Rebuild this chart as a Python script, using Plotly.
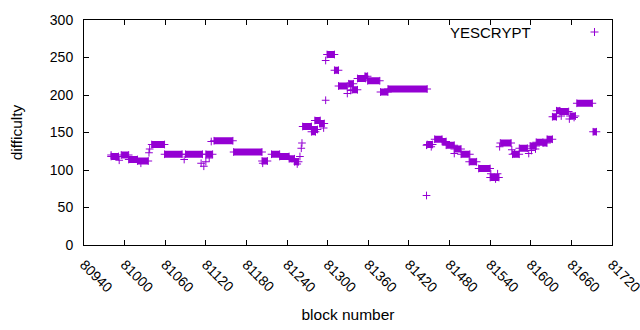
import plotly.graph_objects as go

# Runs of consecutive blocks sharing one difficulty value (first block, last block, difficulty)
run_first = [80980, 80995, 81006, 81019, 81040, 81059, 81090, 81120, 81132, 81161,
             81203, 81217, 81229, 81243, 81251, 81263, 81276, 81276, 81281, 81288,
             81299, 81310, 81316, 81331, 81336, 81344, 81355, 81359, 81378, 81389,
             81447, 81458, 81469, 81475, 81487, 81497, 81509, 81523, 81540, 81555,
             81573, 81583, 81599, 81608, 81618, 81624, 81632, 81638, 81643, 81658,
             81668, 81692]
run_last = [80991, 81006, 81019, 81035, 81059, 81085, 81115, 81130, 81160, 81203,
            81211, 81229, 81243, 81251, 81257, 81276, 81285, 81282, 81289, 81295,
            81310, 81316, 81329, 81338, 81344, 81356, 81359, 81377, 81389, 81447,
            81455, 81469, 81475, 81487, 81497, 81510, 81520, 81540, 81553, 81571,
            81583, 81595, 81608, 81618, 81624, 81632, 81638, 81643, 81656, 81666,
            81691, 81697]
run_difficulty = [118, 120, 114, 112, 134, 121, 121, 121, 139, 124,
                  112, 121, 118, 115, 111, 158, 154, 151, 166, 162,
                  254, 233, 212, 215, 207, 222, 225, 219, 204, 208,
                  134, 141, 138, 133, 128, 121, 111, 102, 90, 136,
                  121, 129, 132, 137, 136, 141, 171, 179, 178, 172,
                  189, 151]

# Isolated blocks
single_block = [80980, 80992, 81024, 81036, 81037, 81088, 81113, 81117, 81120, 81125,
                81128, 81204, 81255, 81259, 81261, 81262, 81294, 81297, 81297, 81329,
                81334, 81446, 81446, 81453, 81487, 81541, 81548, 81551, 81554, 81572,
                81576, 81597, 81601, 81607, 81645, 81657, 81664]
single_difficulty = [120, 113, 109, 123, 128, 114, 109, 105, 111, 116,
                     138, 109, 108, 118, 129, 136, 156, 193, 246, 202,
                     206, 66, 133, 131, 122, 95, 88, 95, 131, 127,
                     122, 122, 126, 128, 172, 168, 170]

x_ticks = [80940, 81000, 81060, 81120, 81180, 81240, 81300, 81360, 81420,
           81480, 81540, 81600, 81660, 81720]
y_ticks = [0, 50, 100, 150, 200, 250, 300]

COLOR = "#9400D3"
FONT = "Liberation Sans, Arial, sans-serif"
FS_TICK = 14
FS_TEXT = 15.5

bar_x, bar_y = [], []
end_x, end_y = [], []
for s, e, v in zip(run_first, run_last, run_difficulty):
    bar_x += [s, e, None]
    bar_y += [v, v, None]
    end_x += [s, e]
    end_y += [v, v]

fig = go.Figure()
fig.add_trace(go.Scatter(x=bar_x, y=bar_y, mode="lines",
                         line=dict(color=COLOR, width=7), hoverinfo="skip",
                         showlegend=False))
marker = dict(symbol="cross-thin", size=5.5, line=dict(color=COLOR, width=1), color=COLOR)
fig.add_trace(go.Scatter(x=end_x + single_block, y=end_y + single_difficulty,
                         mode="markers", marker=marker, name="YESCRYPT",
                         showlegend=False))

# gnuplot-style key: text then sample
fig.add_annotation(xref="paper", yref="paper", x=(533 - 84.5) / 528, y=(245 - 32) / 225,
                   text="YESCRYPT", showarrow=False, xanchor="right", yanchor="middle",
                   font=dict(family=FONT, size=15, color="black"))
kx = (595 - 84.5) / 528
ky = (245 - 32) / 225
dx = 4 / 528
dy = 4 / 225
fig.add_shape(type="line", xref="paper", yref="paper", x0=kx - dx, x1=kx + dx, y0=ky, y1=ky,
              line=dict(color=COLOR, width=1))
fig.add_shape(type="line", xref="paper", yref="paper", x0=kx, x1=kx, y0=ky - dy, y1=ky + dy,
              line=dict(color=COLOR, width=1))

axis_common = dict(showline=True, linecolor="black", linewidth=1, mirror="ticks",
                   ticks="inside", ticklen=5, tickcolor="black", tickwidth=1,
                   showgrid=False, zeroline=False, automargin=False,
                   ticklabeloverflow="allow",
                   tickfont=dict(family=FONT, size=FS_TICK, color="black"))
fig.update_xaxes(range=[80940, 81720], tickmode="array", tickvals=x_ticks,
                 ticktext=[str(t) for t in x_ticks], tickangle=45,
                 ticklabelstandoff=5,
                 title=dict(text="block number", font=dict(family=FONT, size=FS_TEXT, color="black"),
                            standoff=14),
                 **axis_common)
fig.update_yaxes(range=[0, 300], tickmode="array", tickvals=y_ticks,
                 ticktext=[str(t) for t in y_ticks], ticklabelstandoff=7,
                 title=dict(text="difficulty", font=dict(family=FONT, size=FS_TEXT, color="black"),
                            standoff=23),
                 **axis_common)
fig.update_layout(width=640, height=330, plot_bgcolor="white", paper_bgcolor="white",
                  margin=dict(l=84, r=28, t=20, b=85, pad=0),
                  font=dict(family=FONT, size=FS_TICK, color="black"))
fig.write_html("out.html", config={"displayModeBar": False},
               post_script="document.body.style.margin='0';")
